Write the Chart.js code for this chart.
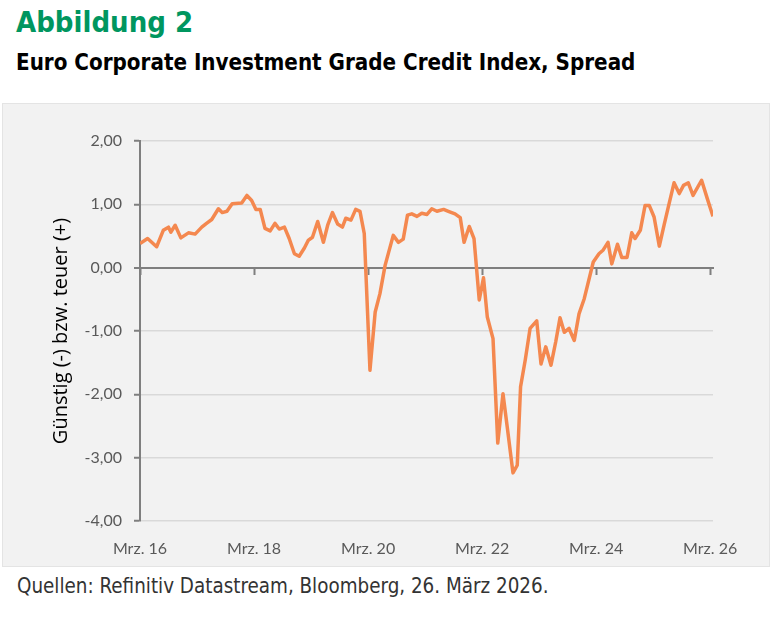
<!DOCTYPE html>
<html lang="de">
  <head>
    <meta charset="UTF-8" />
    <title>Abbildung 2</title>
    <script src="https://cdn.jsdelivr.net/npm/chart.js@4.4.1/dist/chart.umd.min.js"></script>
    <style>
      * {
        margin: 0;
        padding: 0;
        box-sizing: border-box;
      }

      body {
        width: 770px;
        height: 636px;
        background: #fff;
        position: relative;
        overflow: hidden;
        font-family: 'Liberation Sans Narrow', 'DejaVu Sans Condensed', sans-serif;
      }

      .title {
        position: absolute;
        left: 16px;
        top: 5px;
        font-size: 29px;
        font-weight: bold;
        color: #00965f;
      }

      .subtitle {
        position: absolute;
        left: 16px;
        top: 49px;
        font-size: 22.2px;
        font-weight: bold;
        color: #000;
      }

      .panel {
        position: absolute;
        left: 3px;
        top: 104px;
        width: 766px;
        height: 462px;
        background: #f2f2f2;
        outline: 1px solid #e4e4e4;
      }

      .source {
        position: absolute;
        left: 17px;
        top: 574px;
        font-size: 20.4px;
        color: #333;
      }
    </style>
  </head>
  <body>
    <div class="title">Abbildung 2</div>
    <div class="subtitle">Euro Corporate Investment Grade Credit Index, Spread</div>
    <div class="panel">
      <canvas id="myChart" width="766" height="462"></canvas>
    </div>
    <div class="source">Quellen: Refinitiv Datastream, Bloomberg, 26. März 2026.</div>

    <script>
      // months since Mrz. 16
      const months = [
        0, 1.6, 3.5, 4.9, 6.0, 6.5, 7.4, 8.6, 10.2, 11.6, 13.0, 14.0, 15.1, 16.5, 17.3, 18.3,
        19.4, 21.4, 22.5, 23.5, 24.4, 25.3, 26.3, 27.4, 28.4, 29.3, 30.4, 31.4, 32.5, 33.5,
        34.6, 35.4, 36.3, 37.4, 38.6, 39.5, 40.5, 41.6, 42.6, 43.3, 44.4, 45.4, 46.3, 47.2,
        48.4, 49.5, 50.5, 51.6, 53.3, 54.4, 55.4, 56.3, 57.2, 58.3, 59.3, 60.4, 61.4, 62.5,
        63.9, 64.9, 66.3, 67.4, 68.2, 69.3, 70.3, 71.4, 72.3, 73.1, 74.3, 75.3, 76.4, 77.3,
        78.5, 79.4, 80.1, 81.1, 82.1, 83.5, 84.4, 85.4, 86.5, 87.5, 88.4, 89.3, 90.3, 91.4,
        92.4, 93.5, 95.4, 96.6, 97.5, 98.5, 99.3, 100.5, 101.4, 102.5, 103.5, 104.2, 105.3,
        106.3, 107.2, 108.2, 109.3, 110.3, 111.2, 112.4, 113.5, 114.4, 115.4, 116.4, 118.2,
        119.4, 120.6
      ]

      // spread, guenstig (-) bzw. teuer (+)
      const spread = [
        0.38, 0.46, 0.33, 0.59, 0.64, 0.56, 0.67, 0.47, 0.55, 0.53, 0.64, 0.70, 0.76, 0.93, 0.87, 0.89,
        1.01, 1.02, 1.14, 1.06, 0.92, 0.92, 0.62, 0.58, 0.70, 0.61, 0.64, 0.46, 0.22, 0.18,
        0.31, 0.43, 0.48, 0.73, 0.40, 0.67, 0.87, 0.69, 0.64, 0.78, 0.75, 0.92, 0.89, 0.54,
        -1.62, -0.70, -0.41, 0.04, 0.51, 0.40, 0.45, 0.83, 0.85, 0.81, 0.86, 0.84, 0.93, 0.89,
        0.92, 0.89, 0.85, 0.79, 0.40, 0.65, 0.46, -0.51, -0.16, -0.78, -1.12, -2.77, -1.99, -2.52,
        -3.24, -3.12, -1.88, -1.45, -0.96, -0.84, -1.52, -1.25, -1.54, -1.17, -0.79, -1.02, -0.96, -1.15,
        -0.73, -0.49, 0.09, 0.22, 0.28, 0.40, 0.06, 0.37, 0.16, 0.16, 0.55, 0.46, 0.59,
        0.98, 0.98, 0.80, 0.34, 0.67, 0.96, 1.34, 1.17, 1.30, 1.34, 1.14, 1.38,
        1.09, 0.81
      ]

      const tickMonths = [0, 24, 48, 72, 96, 120]
      const tickLabels = ['Mrz. 16', 'Mrz. 18', 'Mrz. 20', 'Mrz. 22', 'Mrz. 24', 'Mrz. 26']
      const yTicks = [2, 1, 0, -1, -2, -3, -4]

      const tickFont = { family: 'Lato', size: 16 }
      const setTicks = (scale) => {
        scale.ticks = tickMonths.map((v) => ({ value: v }))
      }

      const ctx = document.getElementById('myChart')

      const data = {
        datasets: [
          {
            label: 'Spread',
            data: months.map((m, i) => ({ x: m, y: spread[i] })),
            borderColor: '#f4884f',
            borderWidth: 3.5,
            pointRadius: 0,
            tension: 0,
            borderJoinStyle: 'round',
            xAxisID: 'x'
          }
        ]
      }

      const options = {
        responsive: false,
        animation: false,
        layout: { padding: { left: 44, top: 37, right: 56, bottom: 0 } },
        plugins: {
          legend: { display: false },
          tooltip: { enabled: false }
        },
        scales: {
          x: {
            type: 'linear',
            min: 0,
            max: 120.6,
            position: 'bottom',
            grid: { display: false, drawTicks: false },
            border: { display: false },
            afterBuildTicks: setTicks,
            afterFit: (s) => {
              s.height = 45
            },
            ticks: {
              maxRotation: 0,
              padding: 18,
              color: '#595959',
              font: tickFont,
              callback: (v) => tickLabels[tickMonths.indexOf(v)]
            }
          },
          xZero: {
            type: 'linear',
            min: 0,
            max: 120.6,
            position: { y: 0 },
            grid: { drawOnChartArea: false, tickLength: 6, tickColor: '#7f7f7f', tickWidth: 2 },
            border: { color: '#7f7f7f', width: 2 },
            afterBuildTicks: setTicks,
            ticks: { display: false }
          },
          y: {
            min: -4,
            max: 2,
            afterBuildTicks: (scale) => {
              scale.ticks = yTicks.map((v) => ({ value: v }))
            },
            afterFit: (s) => {
              s.width = 93
            },
            border: { color: '#7f7f7f', width: 2 },
            grid: {
              color: (c) => (c.tick && c.tick.value === 0 ? '#7f7f7f' : '#d9d9d9'),
              lineWidth: (c) => (c.tick && c.tick.value === 0 ? 2 : 1.5),
              tickLength: 6,
              tickColor: '#7f7f7f',
              tickWidth: 2
            },
            ticks: {
              padding: 12,
              color: '#595959',
              font: tickFont,
              callback: (v) => v.toFixed(2).replace('.', ',')
            },
            title: {
              display: true,
              text: 'Günstig (-) bzw. teuer (+)',
              color: '#000',
              padding: { top: 2, bottom: 4 },
              font: { family: 'Open Sans', size: 20 }
            }
          }
        }
      }

      new Chart(ctx, { type: 'line', data, options })
    </script>
  </body>
</html>
